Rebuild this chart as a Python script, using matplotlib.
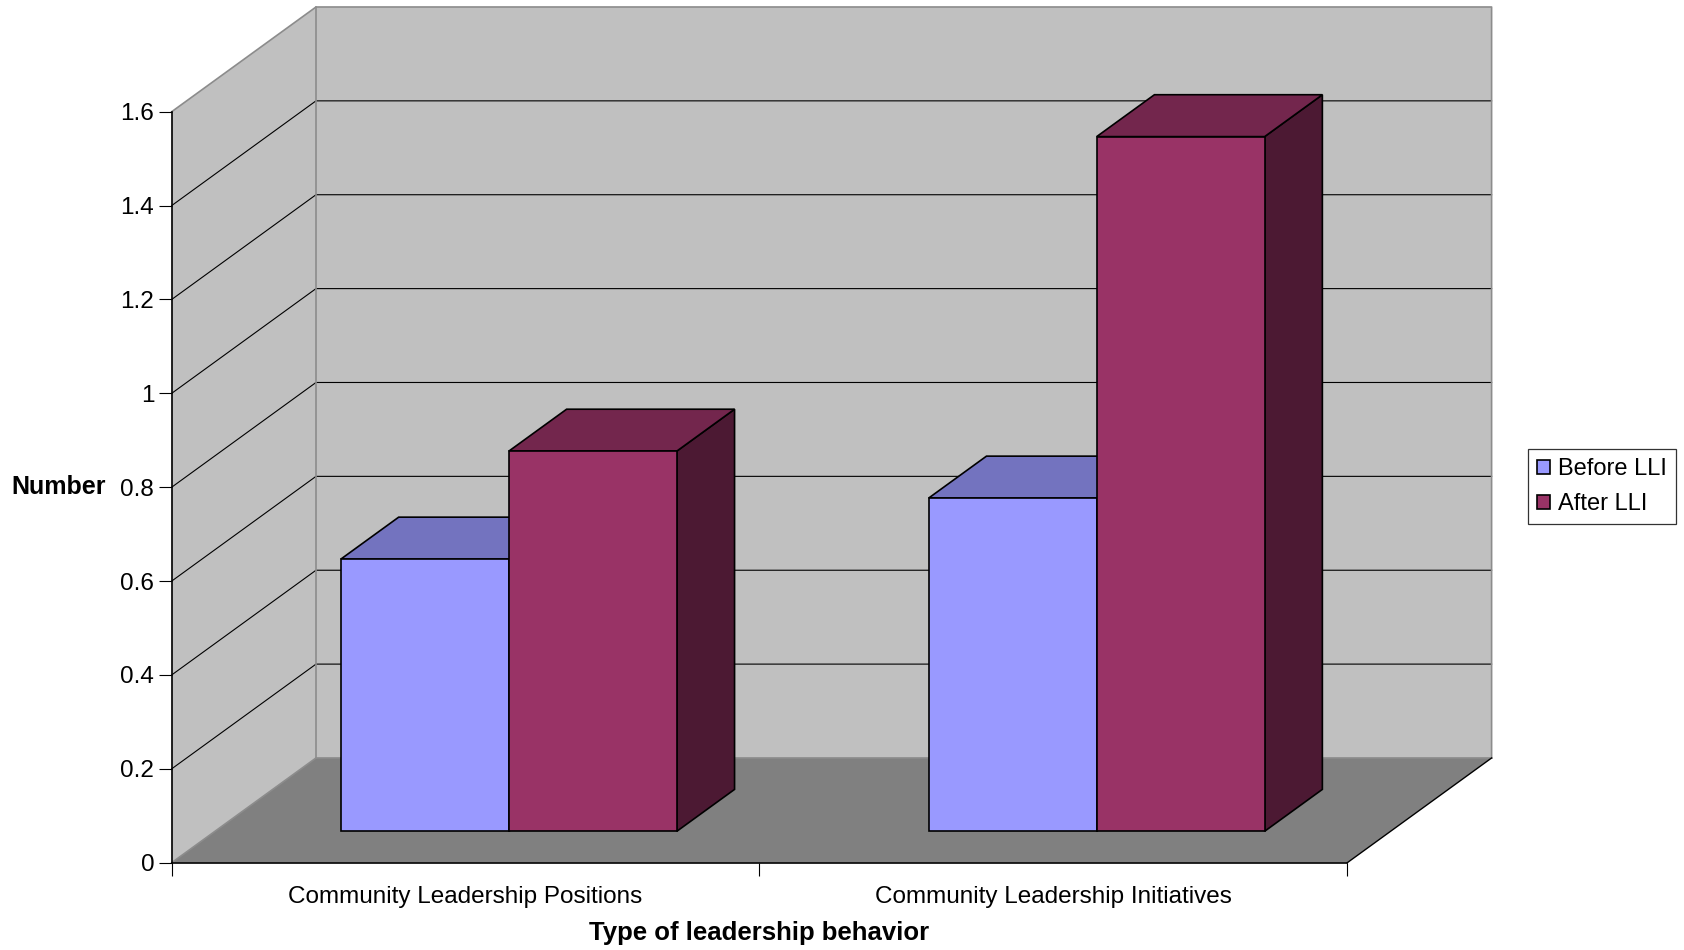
import matplotlib
matplotlib.use("Agg")
import matplotlib.pyplot as plt
from matplotlib.patches import Polygon

plt.rcParams['font.family'] = ['Liberation Sans', 'DejaVu Sans']

# Data
categories = ["Community Leadership Positions", "Community Leadership Initiatives"]
series_names = ["Before LLI", "After LLI"]
before_lli = [0.58, 0.71]
after_lli = [0.81, 1.48]
y_ticks = [0, 0.2, 0.4, 0.6, 0.8, 1.0, 1.2, 1.4, 1.6]
y_tick_labels = ["0", "0.2", "0.4", "0.6", "0.8", "1", "1.2", "1.4", "1.6"]

# Colours (front, top, side) for each series
face_colors = {
    "Before LLI": ("#9999FF", "#7373BF", "#4D4D80"),
    "After LLI": ("#993366", "#73264D", "#4C1933"),
}

# Oblique projection for the 3-D look
DX, DY = 0.2455, 0.2231
YMAX = 1.6
N = len(categories)


def proj(x, v, d):
    return (x + d * DX, v + d * DY)


W, H = 1684, 950
fig = plt.figure(figsize=(W / 100, H / 100), dpi=100, facecolor="white")
ax_left, ax_right = 171.7, 1347.3
ax_bottom, ax_top = 862.7, 111.7
ax = fig.add_axes([ax_left / W, 1 - ax_bottom / H,
                   (ax_right - ax_left) / W, (ax_bottom - ax_top) / H])
ax.set_xlim(0, N)
ax.set_ylim(0, YMAX)
ax.patch.set_visible(False)

wall = "#C0C0C0"
floor = "#808080"
edge_gray = "#8C8C8C"

# Side wall, back wall, floor
side = Polygon([proj(0, 0, 0), proj(0, 0, 1), proj(0, YMAX, 1), proj(0, YMAX, 0)],
               closed=True, facecolor=wall, edgecolor="none", clip_on=False, zorder=0)
back = Polygon([proj(0, 0, 1), proj(N, 0, 1), proj(N, YMAX, 1), proj(0, YMAX, 1)],
               closed=True, facecolor=wall, edgecolor="none", clip_on=False, zorder=0)
flr = Polygon([proj(0, 0, 0), proj(N, 0, 0), proj(N, 0, 1), proj(0, 0, 1)],
              closed=True, facecolor=floor, edgecolor="none", clip_on=False, zorder=0)
for p in (side, back, flr):
    ax.add_patch(p)

# Gridlines across the side and back walls
for v in y_ticks[1:-1]:
    xs, ys = zip(proj(0, v, 0), proj(0, v, 1), proj(N, v, 1))
    ax.plot(xs, ys, color="black", lw=0.8, clip_on=False, zorder=1)

# Wall and floor outlines
outline_gray = [
    [proj(0, YMAX, 0), proj(0, YMAX, 1), proj(N, YMAX, 1), proj(N, 0, 1)],
    [proj(0, 0, 1), proj(0, YMAX, 1)],
    [proj(0, 0, 0), proj(0, 0, 1), proj(N, 0, 1)],
]
for seg in outline_gray:
    xs, ys = zip(*seg)
    ax.plot(xs, ys, color=edge_gray, lw=1.2, clip_on=False, zorder=1)
xs, ys = zip(proj(N, 0, 0), proj(N, 0, 1))
ax.plot(xs, ys, color="black", lw=1.0, clip_on=False, zorder=1)

# Bars
bar_w = 1 / 3.5
d0, d1 = 0.3, 0.7
values = {"Before LLI": before_lli, "After LLI": after_lli}
handles = []
z = 2
for i in range(N):
    for s, name in enumerate(series_names):
        v = values[name][i]
        front_c, top_c, side_c = face_colors[name]
        x0 = i + (1 - 2 * bar_w) / 2 + s * bar_w
        x1 = x0 + bar_w
        kw = dict(closed=True, edgecolor="black", lw=1.2, joinstyle="miter",
                  clip_on=False, zorder=z)
        side_p = Polygon([proj(x1, 0, d0), proj(x1, 0, d1), proj(x1, v, d1), proj(x1, v, d0)],
                         facecolor=side_c, **kw)
        top_p = Polygon([proj(x0, v, d0), proj(x1, v, d0), proj(x1, v, d1), proj(x0, v, d1)],
                        facecolor=top_c, **kw)
        front_p = Polygon([proj(x0, 0, d0), proj(x1, 0, d0), proj(x1, v, d0), proj(x0, v, d0)],
                          facecolor=front_c, label=name if i == 0 else None, **kw)
        for p in (side_p, top_p, front_p):
            ax.add_patch(p)
        if i == 0:
            handles.append(front_p)
        z += 1

# Axes: spines and ticks
for sp in ("top", "right"):
    ax.spines[sp].set_visible(False)
ax.spines["left"].set_linewidth(1.2)
ax.spines["bottom"].set_linewidth(1.2)
ax.spines["left"].set_zorder(1.5)
ax.spines["bottom"].set_zorder(1.5)

ax.set_yticks(y_ticks)
ax.set_yticklabels(y_tick_labels)
ax.tick_params(axis="y", direction="out", length=9.4, width=0.8, pad=3.2,
               labelsize=17.5, colors="black")
ax.set_xticks(range(N + 1))
ax.set_xticklabels([""] * (N + 1))
ax.tick_params(axis="x", which="major", direction="out", length=9.4, width=0.8)
ax.set_xticks([i + 0.5 for i in range(N)], minor=True)
ax.set_xticklabels(categories, minor=True)
ax.tick_params(axis="x", which="minor", length=0, pad=16.5, labelsize=17.5)

ax.set_ylabel("Number", rotation=0, fontsize=18, fontweight="bold", ha="right", va="center")
ax.yaxis.set_label_coords(-0.056, 0.5)
ax.set_xlabel("Type of leadership behavior", fontsize=18.5, fontweight="bold", va="center")
ax.xaxis.set_label_coords(0.5, -0.093)

leg = fig.legend(handles=handles, labels=series_names, loc="center left",
                 bbox_to_anchor=(1527.7 / W, 1 - 486.7 / H), borderaxespad=0,
                 fontsize=17, frameon=True, fancybox=False, edgecolor="black",
                 handlelength=0.55, handleheight=0.55, handletextpad=0.35,
                 labelspacing=0.55, borderpad=0.38)
leg.get_frame().set_linewidth(0.9)

fig.savefig("out.png", dpi=100, facecolor="white")
